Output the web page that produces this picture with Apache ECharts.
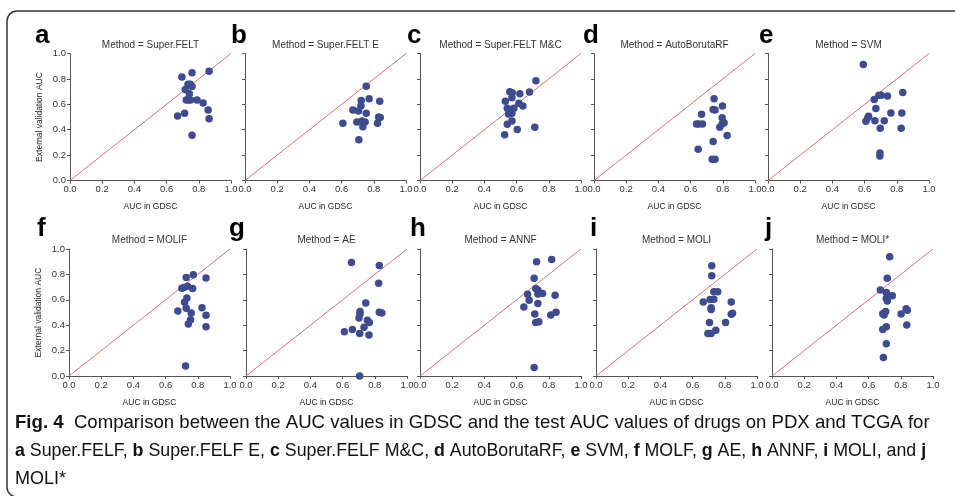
<!DOCTYPE html>
<html><head><meta charset="utf-8">
<script src="https://cdn.jsdelivr.net/npm/echarts@6/dist/echarts.min.js"></script>
<style>html,body{margin:0;padding:0;background:#fff}#c{width:955px;height:496px}</style>
</head><body><div id="c"></div>
<script>
const methods = ['Super.FELT','Super.FELT E','Super.FELT M&C','AutoBorutaRF','SVM','MOLIF','AE','ANNF','MOLI','MOLI*'];
const panelLetters = ['a','b','c','d','e','f','g','h','i','j'];
const tickValues = [0, 0.2, 0.4, 0.6, 0.8, 1.0];
const diagonal = [[0, 0], [1, 1]];
const xTitle = 'AUC in GDSC';
const yTitle = 'External validation AUC';

const superFeltX = [0.695,0.758,0.864,0.733,0.747,0.758,0.716,0.741,0.722,0.737,0.749,0.789,0.827,0.858,0.864,0.668,0.712,0.758];
const superFeltY = [0.814,0.848,0.861,0.757,0.757,0.741,0.717,0.683,0.634,0.634,0.634,0.634,0.610,0.555,0.487,0.508,0.529,0.356];
const superFeltEX = [0.753,0.771,0.722,0.837,0.720,0.670,0.705,0.753,0.830,0.840,0.608,0.695,0.726,0.746,0.732,0.823,0.707];
const superFeltEY = [0.743,0.643,0.630,0.624,0.587,0.556,0.548,0.529,0.500,0.497,0.450,0.460,0.468,0.460,0.423,0.450,0.320];
const superFeltMCX = [0.720,0.680,0.558,0.573,0.620,0.571,0.530,0.614,0.639,0.583,0.542,0.550,0.571,0.571,0.542,0.604,0.713,0.526];
const superFeltMCY = [0.786,0.696,0.698,0.690,0.683,0.651,0.624,0.608,0.587,0.569,0.569,0.524,0.529,0.468,0.442,0.402,0.420,0.360];
const autoBorutaX = [0.746,0.740,0.752,0.798,0.668,0.637,0.651,0.674,0.796,0.808,0.796,0.781,0.740,0.647,0.734,0.752,0.827];
const autoBorutaY = [0.643,0.560,0.556,0.587,0.521,0.444,0.444,0.444,0.495,0.455,0.444,0.420,0.307,0.246,0.167,0.167,0.354];
const svmX = [0.592,0.689,0.703,0.742,0.837,0.660,0.670,0.625,0.619,0.608,0.664,0.722,0.763,0.831,0.697,0.827,0.695,0.695];
const svmY = [0.913,0.671,0.671,0.666,0.692,0.637,0.566,0.505,0.492,0.466,0.471,0.471,0.532,0.532,0.411,0.411,0.216,0.192];
const molifX = [0.772,0.728,0.851,0.701,0.714,0.736,0.768,0.732,0.718,0.728,0.676,0.759,0.826,0.851,0.755,0.741,0.851,0.724];
const molifY = [0.797,0.776,0.771,0.691,0.697,0.707,0.689,0.615,0.580,0.533,0.512,0.496,0.538,0.478,0.443,0.409,0.388,0.079];
const aeX = [0.655,0.828,0.824,0.744,0.708,0.708,0.702,0.754,0.766,0.828,0.844,0.733,0.661,0.611,0.706,0.764,0.706];
const aeY = [0.894,0.871,0.731,0.575,0.507,0.488,0.456,0.438,0.422,0.501,0.496,0.383,0.367,0.348,0.335,0.322,0.000];
const annfX = [0.724,0.818,0.709,0.719,0.732,0.761,0.668,0.732,0.839,0.678,0.732,0.645,0.713,0.812,0.845,0.719,0.738,0.709];
const annfY = [0.900,0.918,0.770,0.689,0.678,0.649,0.644,0.646,0.636,0.596,0.570,0.544,0.488,0.480,0.501,0.422,0.427,0.066];
const moliX = [0.719,0.719,0.732,0.756,0.666,0.709,0.732,0.715,0.715,0.840,0.840,0.848,0.705,0.805,0.695,0.715,0.744];
const moliY = [0.868,0.789,0.663,0.663,0.582,0.603,0.605,0.537,0.524,0.582,0.487,0.495,0.421,0.421,0.334,0.334,0.361];
const moliStarX = [0.731,0.716,0.673,0.710,0.747,0.710,0.716,0.833,0.841,0.802,0.706,0.688,0.696,0.837,0.710,0.688,0.710,0.692];
const moliStarY = [0.939,0.770,0.678,0.657,0.631,0.612,0.591,0.530,0.517,0.488,0.507,0.491,0.480,0.401,0.388,0.367,0.253,0.145];

const captionLine1 = 'Comparison between the AUC values in GDSC and the test AUC values of drugs on PDX and TCGA for';
const captionParts2 = [['a',' Super.FELF, '],['b',' Super.FELF E, '],['c',' Super.FELF M&C, '],['d',' AutoBorutaRF, '],['e',' SVM, '],['f',' MOLF, '],['g',' AE, '],['h',' ANNF, '],['i',' MOLI, and '],['j','']];
const captionLine3 = 'MOLI*';

const allX = [superFeltX, superFeltEX, superFeltMCX, autoBorutaX, svmX, molifX, aeX, annfX, moliX, moliStarX];
const allY = [superFeltY, superFeltEY, superFeltMCY, autoBorutaY, svmY, molifY, aeY, annfY, moliY, moliStarY];

const lefts = [70, 245, 420, 594, 768, 69, 246, 420, 596, 772];
const tops = [53.5, 53.5, 53.5, 53.5, 53.5, 249, 249, 249, 249, 249];
const W = 161, H = 127;
const letterX = [35, 231, 407, 583, 759, 37, 229, 410, 590, 765];
const FONT = '"Liberation Sans", Arial, sans-serif';

const grids = [], xAxes = [], yAxes = [], series = [], graphics = [];
for (let i = 0; i < 10; i++) {
  grids.push({left: lefts[i], top: tops[i], width: W, height: H, containLabel: false});
  xAxes.push({
    type: 'value', gridIndex: i, min: 0, max: 1, interval: 0.2,
    name: xTitle, nameLocation: 'middle', nameGap: 22,
    nameTextStyle: {fontFamily: FONT, fontSize: 8.5, color: '#222'},
    axisLine: {show: true, lineStyle: {color: '#555', width: 1}},
    axisTick: {show: true, length: 3, lineStyle: {color: '#555'}},
    axisLabel: {show: true, fontFamily: FONT, fontSize: 9.5, color: '#333', margin: 4, showMinLabel: true, showMaxLabel: true,
      formatter: v => v.toFixed(1)},
    splitLine: {show: false}
  });
  const showY = (i === 0 || i === 5);
  yAxes.push({
    type: 'value', gridIndex: i, min: 0, max: 1, interval: 0.2,
    name: showY ? yTitle : '', nameLocation: 'middle', nameGap: 26, nameRotate: 90,
    nameTextStyle: {fontFamily: FONT, fontSize: 8.5, color: '#222'},
    axisLine: {show: true, lineStyle: {color: '#555', width: 1}},
    axisTick: {show: true, length: 3, lineStyle: {color: '#555'}},
    axisLabel: {show: showY, fontFamily: FONT, fontSize: 9.5, color: '#333', margin: 4, showMinLabel: true, showMaxLabel: true,
      formatter: v => v.toFixed(1)},
    splitLine: {show: false}
  });
  series.push({
    type: 'line', xAxisIndex: i, yAxisIndex: i, data: diagonal, symbol: 'none', silent: true,
    lineStyle: {color: '#e07070', width: 1}, z: 1, animation: false
  });
  series.push({
    type: 'scatter', xAxisIndex: i, yAxisIndex: i,
    data: allX[i].map((x, k) => [x, allY[i][k]]),
    symbolSize: 7.5, itemStyle: {color: '#3e4c8f', opacity: 1}, z: 2, animation: false
  });
  graphics.push({type: 'text', x: letterX[i], y: i < 5 ? 35.6 : 228.6, z: 10,
    style: {text: panelLetters[i], font: 'bold 26px ' + FONT, fill: '#000', textAlign: 'left', textVerticalAlign: 'middle', verticalAlign: 'middle'}});
  graphics.push({type: 'text', x: lefts[i] + W / 2, y: i < 5 ? 45.5 : 240.7, z: 10,
    style: {text: 'Method = ' + methods[i], font: '10px ' + FONT, fill: '#333', textAlign: 'center', align: 'center', textVerticalAlign: 'middle', verticalAlign: 'middle'}});
}

// border
graphics.push({type: 'rect', shape: {x: 7, y: 11, width: 1000, height: 486, r: 10}, z: 0,
  style: {fill: 'none', stroke: '#333', lineWidth: 1.5}});

// caption
function capRich(sz) {
  return {
    b: {fontFamily: FONT, fontWeight: 'bold', fontSize: sz, fill: '#111', color: '#111'},
    n: {fontFamily: FONT, fontSize: sz, fill: '#111', color: '#111'}
  };
}
graphics.push({type: 'text', x: 15, y: 423, z: 10,
  style: {text: '{b|Fig. 4}{n|  ' + captionLine1 + '}', rich: capRich(18.6), textVerticalAlign: 'middle', verticalAlign: 'middle', font: '18.6px ' + FONT, fill: '#111'}});
graphics.push({type: 'text', x: 15, y: 451, z: 10,
  style: {text: captionParts2.map(p => '{b|' + p[0] + '}' + (p[1] ? '{n|' + p[1] + '}' : '')).join(''), rich: capRich(17.8), textVerticalAlign: 'middle', verticalAlign: 'middle', font: '17.8px ' + FONT, fill: '#111'}});
graphics.push({type: 'text', x: 15, y: 479, z: 10,
  style: {text: captionLine3, font: '18px ' + FONT, fill: '#111', textVerticalAlign: 'middle', verticalAlign: 'middle'}});

const chart = echarts.init(document.getElementById('c'), null, {renderer: 'canvas'});
chart.setOption({
  animation: false,
  backgroundColor: '#fff',
  grid: grids, xAxis: xAxes, yAxis: yAxes, series: series, graphic: graphics
});
</script></body></html>
